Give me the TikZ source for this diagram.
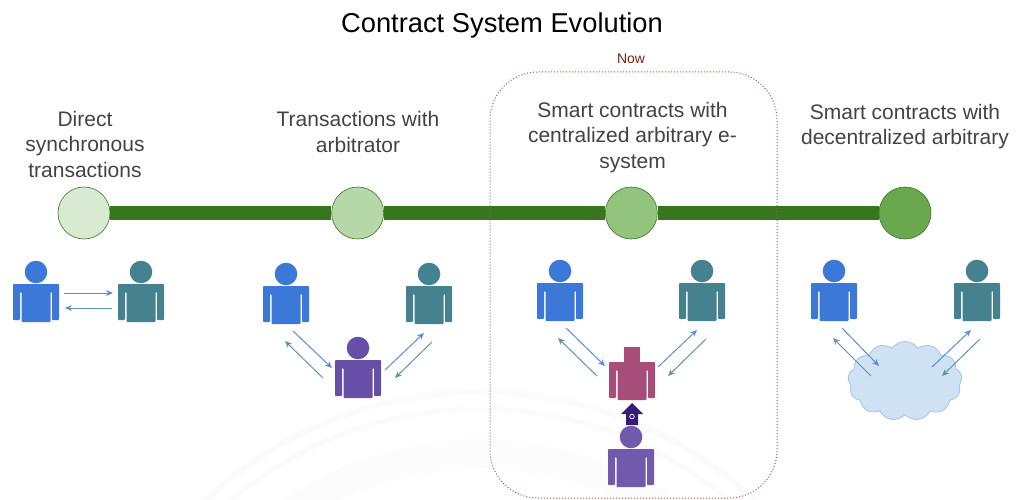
\documentclass[tikz,border=0pt]{standalone}
\usepackage{fontspec}
\setmainfont{Liberation Sans}
\usetikzlibrary{arrows.meta,shapes.symbols}
\definecolor{linegreen}{HTML}{38761D}
\definecolor{stagea}{HTML}{D9EAD3}
\definecolor{stageb}{HTML}{B6D7A8}
\definecolor{stagec}{HTML}{93C47D}
\definecolor{staged}{HTML}{6AA84F}
\definecolor{userblue}{HTML}{3C78D8}
\definecolor{userteal}{HTML}{45818E}
\definecolor{userpurple}{HTML}{674EA7}
\definecolor{ownerpurple}{HTML}{7159AB}
\definecolor{contractred}{HTML}{A64D79}
\definecolor{deployblue}{HTML}{351C75}
\definecolor{labelgray}{HTML}{434343}
\definecolor{cloudfill}{HTML}{CFE2F3}
\definecolor{cloudline}{HTML}{9FC5E8}
\definecolor{nowred}{HTML}{85200C}
\definecolor{boxred}{HTML}{B0504F}
\tikzset{
    stage/.style={circle, draw=linegreen, line width=0.6pt, minimum size=52pt, inner sep=0pt},
    label/.style={align=center, text=labelgray, font=\fontsize{21}{25.5}\selectfont},
    timeline/.style={linegreen, line width=13pt},
    sendflow/.style={->, userblue!85!white, line width=1pt},
    backflow/.style={->, userteal!85!white, line width=1pt},
    torso/.pic={
        \fill[rounded corners=0.8pt] (-23,12) -- (23,12) -- (23,48) -- (16,48) -- (16,20) -- (14.5,20)
            -- (14.5,50) -- (-14.5,50) -- (-14.5,20) -- (-16,20) -- (-16,48) -- (-23,48) -- cycle;
    },
    person/.pic={
        \fill (0,0) circle [radius=11.3];
        \pic {torso};
    },
    contract/.pic={
        \fill (-8,-3) rectangle (8,13);
        \pic {torso};
    }
}
\newcommand{\flow}[4]{
    \coordinate (#1s) at #2;
    \coordinate (#1e) at #3;
    \draw[#4] (#1s) to (#1e);
}
\begin{document}
\begin{tikzpicture}[x=1pt, y=-1pt, node distance=273.67pt, >={Stealth[length=7pt, width=6pt]}]
    \useasboundingbox (0,0) rectangle (1018,500);
    % watermark
    \begin{scope}
        \clip (0,0) rectangle (1018,500);
        \draw[black!1.5, line width=6pt] (480,794) circle [radius=402];
        \draw[black!1.5, line width=5pt] (480,794) circle [radius=385];
        \draw[black!1, line width=30pt] (480,794) circle [radius=340];
    \end{scope}

    \node(title) at (502,25) [font=\fontsize{27.3}{30}\selectfont] {Contract System Evolution};

    \node(dot1) at (84,213) [stage, fill=stagea] {};
    \node(dot2) [stage, right of=dot1, fill=stageb] {};
    \node(dot3) [stage, right of=dot2, fill=stagec] {};
    \node(dot4) [stage, right of=dot3, fill=staged] {};
    \draw[timeline] (dot1) to (dot2);
    \draw[timeline] (dot2) to (dot3);
    \draw[timeline] (dot3) to (dot4);

    \node(nowbox) at (633.5,285) [draw=boxred, dotted, line width=1pt, rounded corners=48pt,
        minimum width=287pt, minimum height=426pt] {};
    \node(now) at (631,58.5) [text=nowred, font=\fontsize{14}{16}\selectfont] {Now};

    \node(label1) at (85,144) [label] {Direct\\synchronous\\transactions};
    \node(label2) at (358,132) [label] {Transactions with\\arbitrator};
    \node(label3) at (632.5,137.5) [label] {Smart contracts with\\centralized arbitrary e-\\system};
    \node(label4) at (905,126.5) [label] {Smart contracts with\\decentralized arbitrary};

    \pic[fill=userblue] at (36,272) {person};
    \pic[fill=userteal] at (141,272) {person};
    \flow{a}{(64,293)}{(113,293)}{sendflow}
    \flow{b}{(112,308)}{(65,308)}{backflow}

    \pic[fill=userblue] at (286,274) {person};
    \pic[fill=userteal] at (429,274) {person};
    \pic[fill=userpurple] at (358,348) {person};
    \flow{c}{(293,331)}{(332,368)}{sendflow}
    \flow{d}{(323,378)}{(285,341)}{backflow}
    \flow{e}{(385,370)}{(424,333)}{sendflow}
    \flow{f}{(432,342)}{(395,378)}{backflow}

    \pic[fill=userblue] at (560,271) {person};
    \pic[fill=userteal] at (702,271) {person};
    \pic[fill=contractred] at (632,350) {contract};
    \pic[fill=ownerpurple] at (631,437) {person};
    \flow{g}{(566,328)}{(605,366)}{sendflow}
    \flow{h}{(597,376)}{(558,338)}{backflow}
    \flow{i}{(658,367)}{(697,330)}{sendflow}
    \flow{j}{(706,339)}{(668,376)}{backflow}
    \fill[deployblue] (632,403) -- (643,414) -- (638,414) -- (638,425) -- (626,425) -- (626,414) -- (621,414) -- cycle;
    \node(deploy) at (632,416.5) [circle, draw=white, line width=0.7pt, minimum size=4.5pt, inner sep=0pt] {};

    \pic[fill=userblue] at (834,271) {person};
    \pic[fill=userteal] at (977,271) {person};
    \node(cloud) at (905,381) [cloud, cloud puffs=13, cloud puff arc=110, aspect=1.45, fill=cloudfill, draw=cloudline,
        line width=0.8pt, inner sep=0pt, minimum width=114pt, minimum height=79pt] {};
    \flow{k}{(842,328)}{(879,366)}{sendflow}
    \flow{l}{(871,376)}{(833,338)}{backflow}
    \flow{m}{(932,367)}{(971,330)}{sendflow}
    \flow{n}{(980,339)}{(942,376)}{backflow}
\end{tikzpicture}
\end{document}
